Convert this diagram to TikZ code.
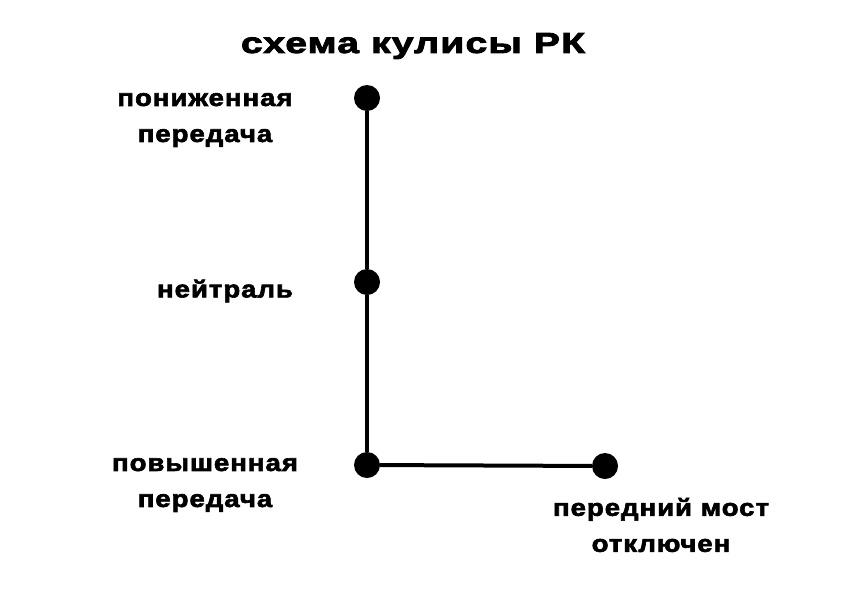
\documentclass[tikz,border=0pt]{standalone}
\usepackage{fontspec}
\setmainfont{Liberation Sans}
\newfontfamily\ttlfont{Liberation Sans Bold}[FakeStretch=1.35,LetterSpace=4,FakeBold=3]
\newfontfamily\lblfont{Liberation Sans Bold}[FakeStretch=1.15,LetterSpace=4,FakeBold=2.5]
\begin{document}
\begin{tikzpicture}[x=1pt,y=-1pt,
  dot/.style={circle,fill=black,minimum size=26pt,inner sep=0pt},
  lbl/.style={font=\lblfont\fontsize{24}{36}\selectfont,align=center,inner sep=0pt},
  ttl/.style={font=\ttlfont\fontsize{29}{34}\selectfont,inner sep=0pt},
  link/.style={line width=4pt}]
\useasboundingbox[fill=white] (0,0) rectangle (842,595);
\node[ttl] (title) at (413,46) {схема кулисы РК};
\node[dot] (low) at (367,98) {};
\node[dot] (neu) at (367,282) {};
\node[dot] (high) at (367,465) {};
\node[dot] (front) at (605,466) {};
\draw[link] (low) -- (neu);
\draw[link] (neu) -- (high);
\draw[link] (high) -- (front);
\node[lbl] (llow) at (205,120) {пониженная\\передача};
\node[lbl] (lneu) at (225,291) {нейтраль};
\node[lbl] (lhigh) at (205,485) {повышенная\\передача};
\node[lbl] (lfront) at (661,525) {передний мост\\отключен};
\end{tikzpicture}
\end{document}
